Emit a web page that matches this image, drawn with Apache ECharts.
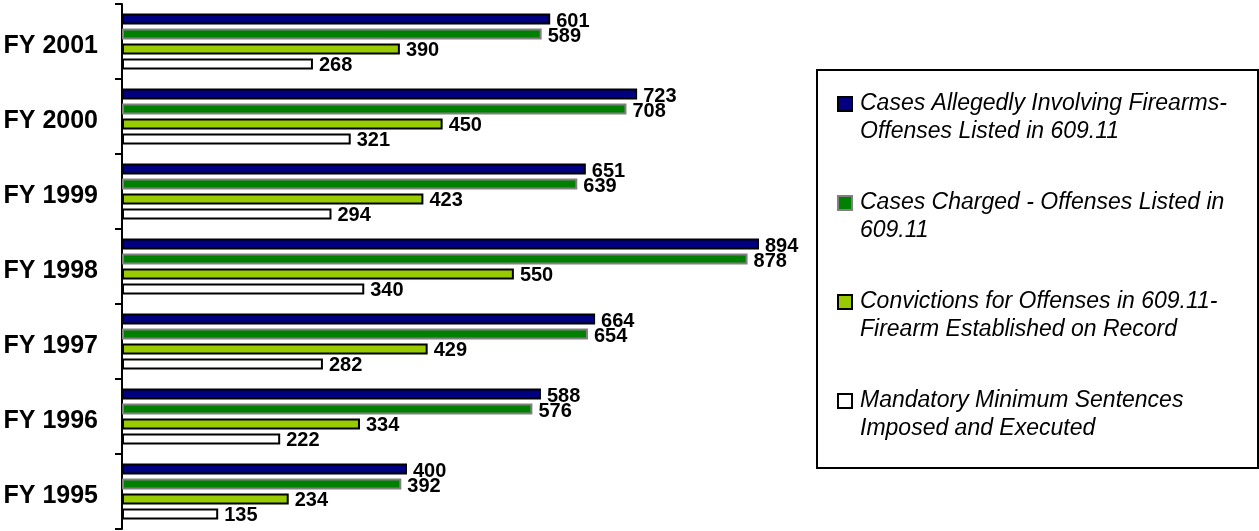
<!DOCTYPE html>
<html>
<head>
<meta charset="utf-8">
<script src="https://cdn.jsdelivr.net/npm/echarts@6/dist/echarts.min.js"></script>
<style>
  html, body { margin: 0; padding: 0; background: #fff; }
  #chart { width: 1259px; height: 531px; }
</style>
</head>
<body>
<div id="chart"></div>
<script>
// fiscal years, bottom to top
var years = ['FY 1995', 'FY 1996', 'FY 1997', 'FY 1998', 'FY 1999', 'FY 2000', 'FY 2001'];

var alleged     = [400, 588, 664, 894, 651, 723, 601];
var charged     = [392, 576, 654, 878, 639, 708, 589];
var convictions = [234, 334, 429, 550, 423, 450, 390];
var mandatory   = [135, 222, 282, 340, 294, 321, 268];

var names = [
    'Cases Allegedly Involving Firearms-\nOffenses Listed in 609.11',
    'Cases Charged - Offenses Listed in\n609.11',
    'Convictions for Offenses in 609.11-\nFirearm Established on Record',
    'Mandatory Minimum Sentences\nImposed and Executed'
];

var font = '"Liberation Sans", Arial, sans-serif';

function barSeries(name, values, fill, border) {
    return {
        name: name,
        type: 'bar',
        data: values,
        barWidth: 11,
        barGap: '36%',
        itemStyle: { color: fill, borderColor: border, borderWidth: 2 },
        label: {
            show: true,
            position: 'right',
            distance: 6,
            offset: [0, 2],
            color: '#000',
            fontFamily: font,
            fontWeight: 'bold',
            fontSize: 20
        }
    };
}

var chart = echarts.init(document.getElementById('chart'));

var option = {
    animation: false,
    backgroundColor: '#fff',
    grid: { left: 122, top: 4, bottom: 2, width: 712.5 },
    xAxis: {
        type: 'value',
        min: 0,
        max: 1000,
        show: false
    },
    yAxis: {
        type: 'category',
        data: years,
        axisLine: { show: true, lineStyle: { color: '#000', width: 2 } },
        axisTick: { show: true, interval: 0, length: 7, lineStyle: { color: '#000', width: 2 } },
        axisLabel: {
            margin: 24,
            // top-aligned short line box drops the text a few px below the band centre
            verticalAlign: 'top',
            lineHeight: 10,
            color: '#000',
            fontFamily: font,
            fontWeight: 'bold',
            fontSize: 25
        },
        splitLine: { show: false }
    },
    legend: {
        orient: 'vertical',
        left: 837,
        top: 62,
        padding: 0,
        itemWidth: 14,
        itemHeight: 14,
        itemGap: 15,
        icon: 'rect',
        data: names,
        // leading blank line keeps the marker level with the first text line
        formatter: function (name) { return '\n' + name; },
        textStyle: {
            fontFamily: font,
            fontStyle: 'italic',
            fontSize: 23,
            lineHeight: 28,
            color: '#000',
            padding: [0, 0, 0, 3]
        }
    },
    graphic: [{
        type: 'rect',
        shape: { x: 817, y: 70, width: 441, height: 398 },
        style: { fill: 'none', stroke: '#000', lineWidth: 2 },
        z: -1
    }],
    series: [
        barSeries(names[0], alleged, '#000080', '#000'),
        barSeries(names[1], charged, '#008000', '#808080'),
        barSeries(names[2], convictions, '#99cc00', '#000'),
        barSeries(names[3], mandatory, '#ffffff', '#000')
    ]
};

chart.setOption(option);
</script>
</body>
</html>
